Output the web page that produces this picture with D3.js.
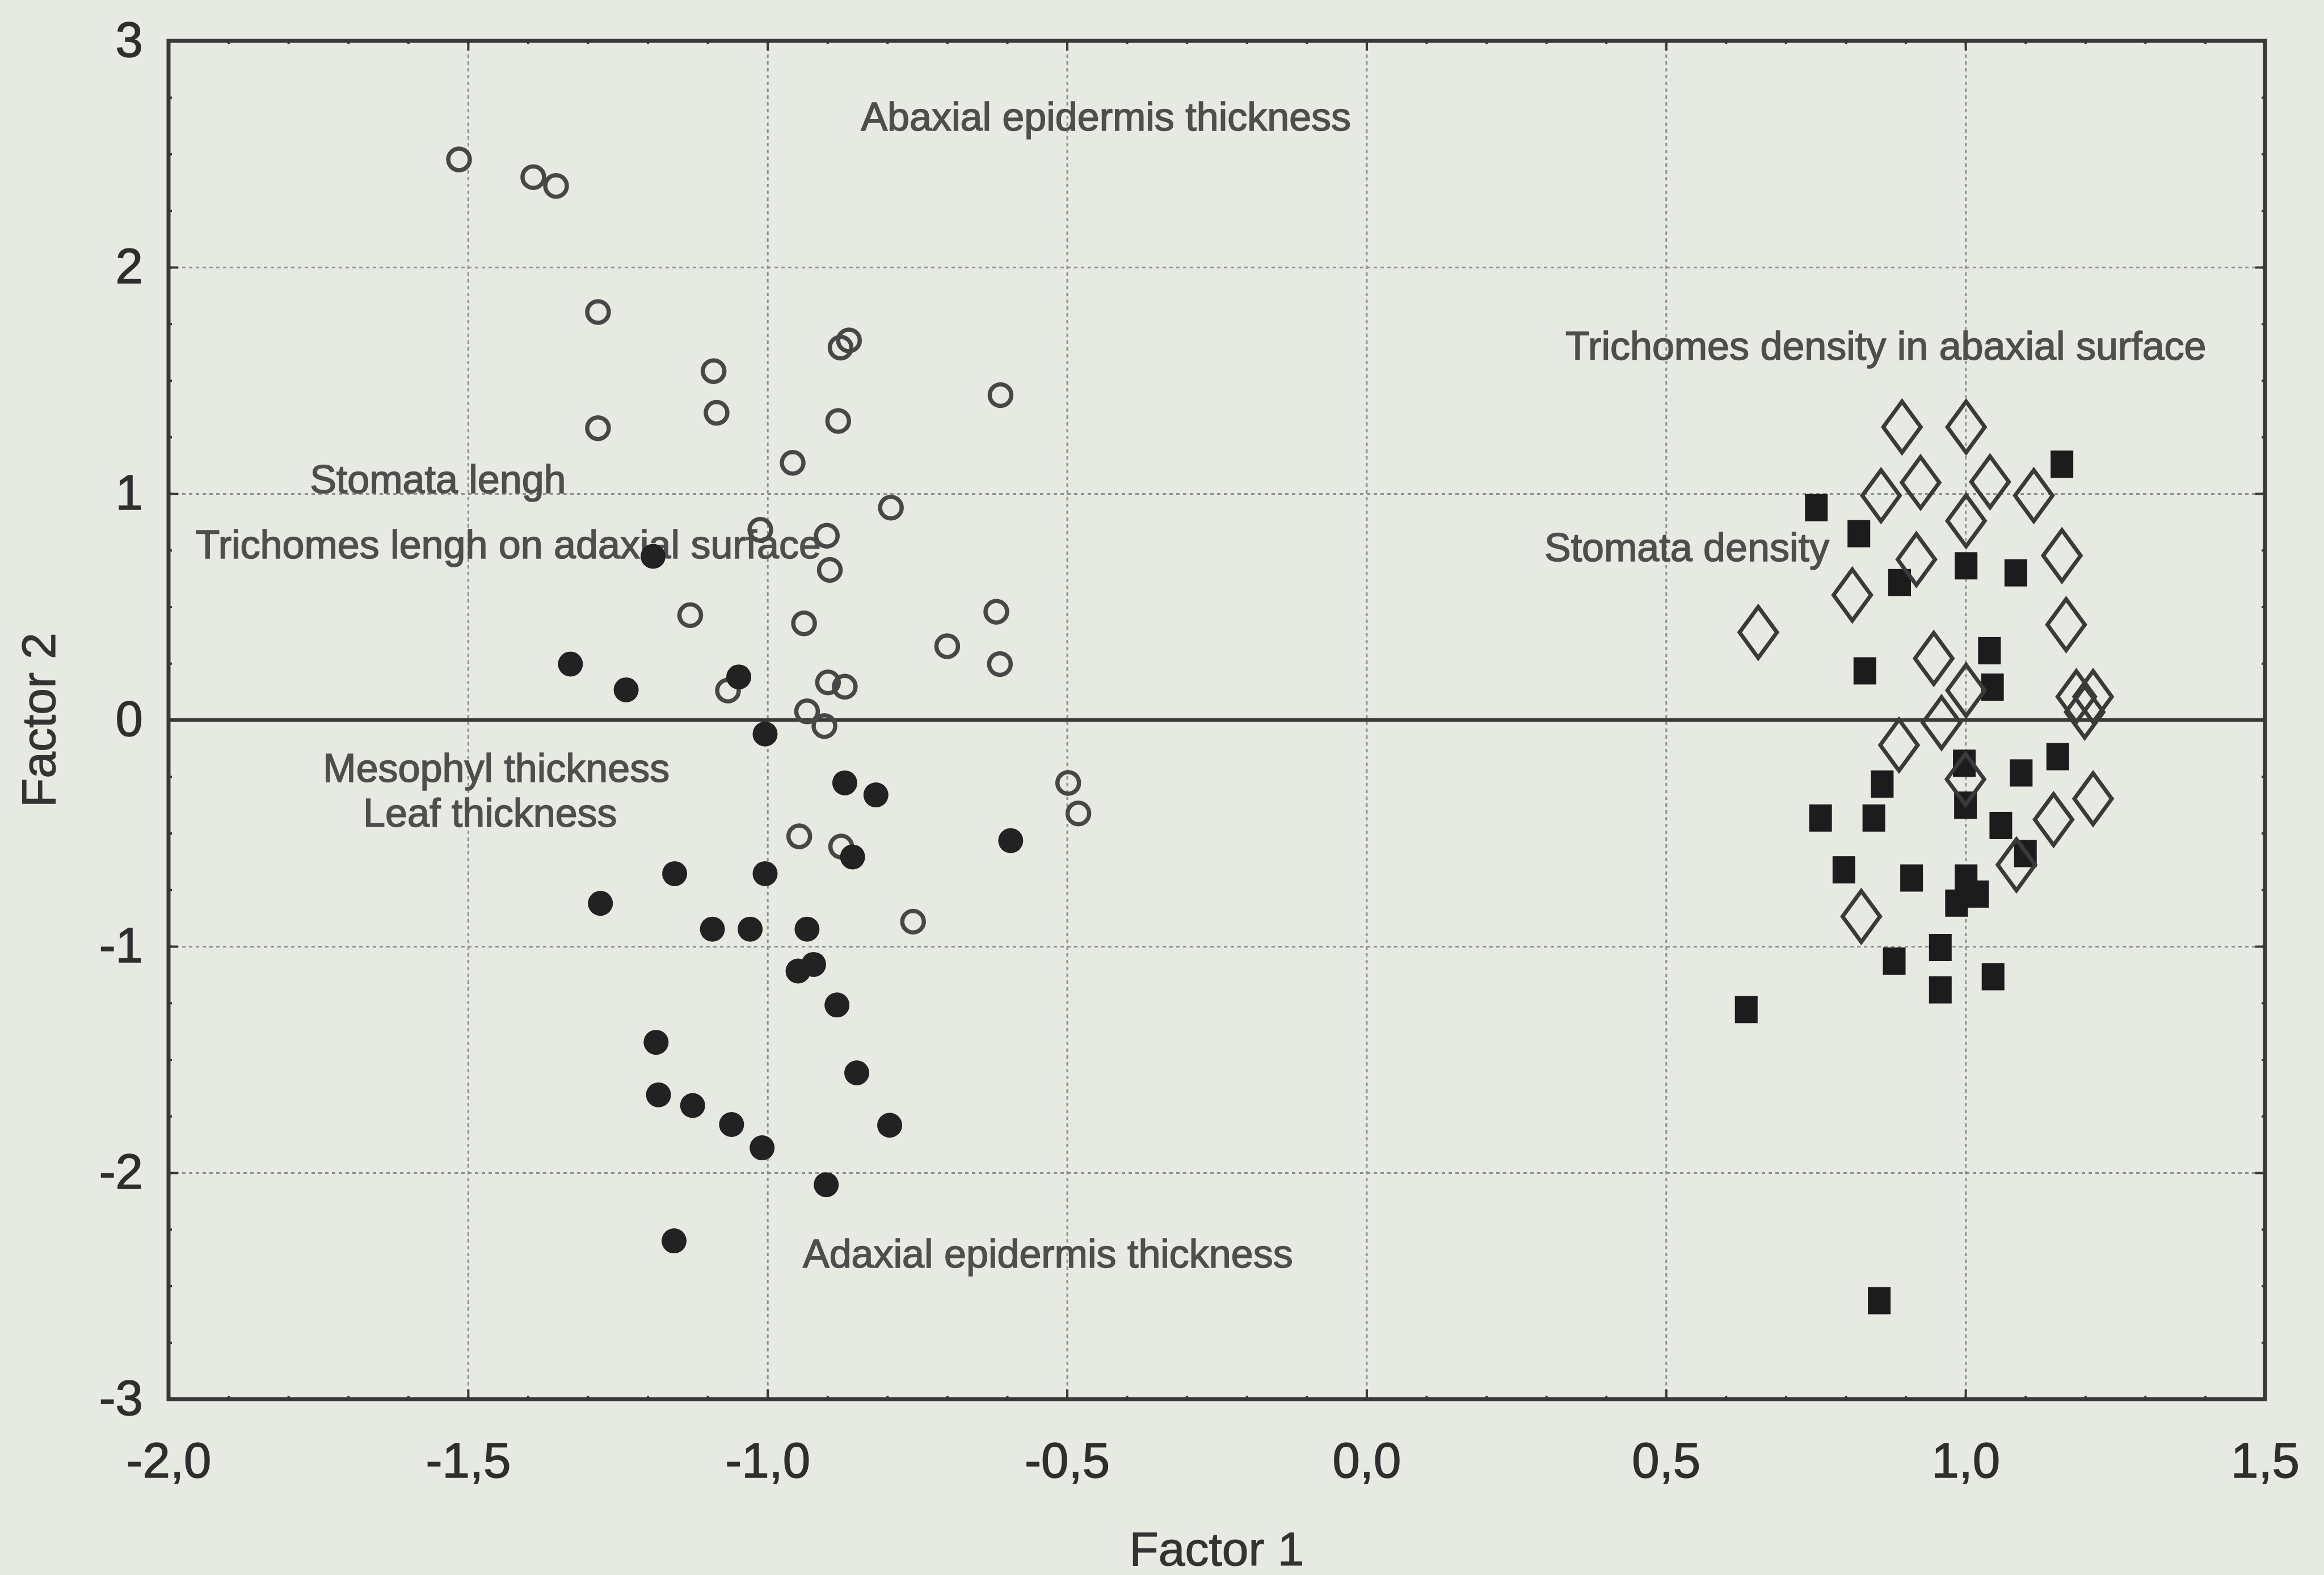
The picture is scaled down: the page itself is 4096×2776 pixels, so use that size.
<!DOCTYPE html>
<html><head><meta charset="utf-8">
<script src="https://cdn.jsdelivr.net/npm/d3@7"></script>
<style>
html,body{margin:0;padding:0;background:#e7eae2;}
svg{display:block;}
</style></head><body>
<svg id="chart" width="4096" height="2776"></svg>
<script>
// ---- data (Factor 1, Factor 2) ----
const openCircles = [
  [-1.515,2.476],[-1.391,2.398],[-1.353,2.359],[-1.283,1.802],[-0.878,1.645],[-0.864,1.677],
  [-1.090,1.541],[-1.085,1.357],[-1.283,1.289],[-0.882,1.321],[-0.611,1.435],[-0.958,1.136],
  [-0.794,0.938],[-1.012,0.840],[-0.901,0.814],[-0.896,0.663],[-1.129,0.463],[-0.939,0.427],
  [-0.618,0.478],[-0.700,0.326],[-0.612,0.247],[-1.066,0.130],[-0.899,0.166],[-0.871,0.147],
  [-0.934,0.038],[-0.905,-0.027],[-0.498,-0.278],[-0.481,-0.413],[-0.947,-0.514],[-0.877,-0.559],
  [-0.757,-0.891]
];
const filledCircles = [
  [-1.191,0.723],[-1.329,0.247],[-1.236,0.133],[-1.048,0.190],[-1.004,-0.062],[-0.871,-0.278],
  [-0.819,-0.331],[-0.594,-0.533],[-0.858,-0.605],[-1.155,-0.679],[-1.004,-0.679],[-1.279,-0.810],
  [-1.092,-0.924],[-1.029,-0.924],[-0.934,-0.924],[-0.923,-1.080],[-0.949,-1.109],[-0.884,-1.259],
  [-1.186,-1.424],[-0.851,-1.559],[-1.182,-1.656],[-1.125,-1.703],[-1.060,-1.787],[-0.796,-1.790],
  [-1.009,-1.890],[-0.902,-2.053],[-1.156,-2.301]
];
const openDiamonds = [
  [0.894,1.294],[1.001,1.294],[0.859,0.991],[0.925,1.049],[1.041,1.052],[1.114,0.991],
  [1.001,0.880],[0.918,0.709],[1.161,0.726],[0.811,0.552],[0.654,0.387],[1.168,0.421],
  [0.947,0.272],[1.001,0.131],[1.185,0.103],[1.213,0.103],[1.199,0.035],[0.960,-0.012],
  [0.889,-0.111],[1.000,-0.262],[1.213,-0.348],[1.147,-0.440],[1.085,-0.640],[0.826,-0.868]
];
const filledSquares = [
  [1.161,1.130],[0.751,0.938],[0.822,0.823],[1.001,0.681],[1.084,0.650],[0.890,0.607],
  [1.040,0.306],[0.832,0.217],[1.045,0.145],[0.998,-0.191],[1.154,-0.162],[1.093,-0.234],
  [0.861,-0.283],[0.758,-0.433],[0.847,-0.433],[1.000,-0.376],[1.059,-0.466],[1.100,-0.590],
  [0.797,-0.662],[0.910,-0.698],[1.001,-0.698],[1.020,-0.769],[0.985,-0.809],[0.958,-1.005],
  [0.881,-1.065],[0.958,-1.192],[1.046,-1.134],[0.634,-1.279],[0.856,-2.565]
];
const xTickValues = [-2,-1.5,-1,-0.5,0,0.5,1,1.5];
const xTickLabels = ["-2,0","-1,5","-1,0","-0,5","0,0","0,5","1,0","1,5"];
const yTickValues = [-3,-2,-1,0,1,2,3];
const yTickLabels = ["-3","-2","-1","0","1","2","3"];
const annotationTexts = [
  "Abaxial epidermis thickness","Trichomes density in abaxial surface","Stomata lengh",
  "Trichomes lengh on adaxial surface","Stomata density","Mesophyl thickness","Leaf thickness",
  "Adaxial epidermis thickness"
];
const annotationX = [-0.844,0.332,-1.764,-1.955,0.297,-1.742,-1.675,-0.941];
const annotationY = [2.603,1.592,1.003,0.715,0.703,-0.273,-0.471,-2.419];
const xTitle = "Factor 1", yTitle = "Factor 2";

// ---- layout ----
const W = 4096, H = 2776;
const m = {left:297, right:3992, top:72, bottom:2466};
const FONT = "'Liberation Sans', Arial, Helvetica, sans-serif";
const x = d3.scaleLinear().domain([-2,1.5]).range([m.left,m.right]);
const y = d3.scaleLinear().domain([-3,3]).range([m.bottom,m.top]);
const svg = d3.select("#chart");
svg.append("rect").attr("width",W).attr("height",H).attr("fill","#e7eae2");

// grid
const gridColor = "#8e908b";
svg.append("g").attr("transform",`translate(0,${m.bottom})`)
  .call(d3.axisBottom(x).tickValues(xTickValues.slice(1,-1)).tickSize(-(m.bottom-m.top)).tickFormat(""))
  .call(g=>g.select(".domain").remove())
  .call(g=>g.selectAll("line").attr("stroke",gridColor).attr("stroke-width",3).attr("stroke-dasharray","6,6"));
svg.append("g").attr("transform",`translate(${m.left},0)`)
  .call(d3.axisLeft(y).tickValues(yTickValues.filter(v=>v!==0 && v>-3 && v<3)).tickSize(-(m.right-m.left)).tickFormat(""))
  .call(g=>g.select(".domain").remove())
  .call(g=>g.selectAll("line").attr("stroke",gridColor).attr("stroke-width",3).attr("stroke-dasharray","6,6"));
// zero line
svg.append("line").attr("x1",x(-2)).attr("x2",x(1.5)).attr("y1",y(0)).attr("y2",y(0))
  .attr("stroke","#3a3a3a").attr("stroke-width",6);

// annotations
svg.append("g").selectAll("text").data(annotationTexts).join("text")
  .attr("x",(d,i)=>x(annotationX[i])).attr("y",(d,i)=>y(annotationY[i]))
  .attr("font-family",FONT).attr("font-size",70).attr("fill","#4e4e4e")
  .attr("stroke","#4e4e4e").attr("stroke-width",1.6)
  .text(d=>d);

// markers
const mk = svg.append("g");
mk.selectAll("circle.open").data(openCircles).join("circle").attr("class","open")
  .attr("cx",d=>x(d[0])).attr("cy",d=>y(d[1])).attr("r",19)
  .attr("fill","none").attr("stroke","#474747").attr("stroke-width",7.5);
mk.selectAll("circle.filled").data(filledCircles).join("circle").attr("class","filled")
  .attr("cx",d=>x(d[0])).attr("cy",d=>y(d[1])).attr("r",22)
  .attr("fill","#222");
mk.selectAll("rect.sq").data(filledSquares).join("rect").attr("class","sq")
  .attr("x",d=>x(d[0])-20).attr("y",d=>y(d[1])-24).attr("width",40).attr("height",48)
  .attr("fill","#1c1c1c");
mk.selectAll("path.dia").data(openDiamonds).join("path").attr("class","dia")
  .attr("d",d=>{const cx=x(d[0]),cy=y(d[1]),hw=33,hh=45;return `M${cx},${cy-hh}L${cx+hw},${cy}L${cx},${cy+hh}L${cx-hw},${cy}Z`;})
  .attr("fill","none").attr("stroke","#3a3a3a").attr("stroke-width",7);

// frame
svg.append("rect").attr("x",m.left).attr("y",m.top).attr("width",m.right-m.left).attr("height",m.bottom-m.top)
  .attr("fill","none").attr("stroke","#383838").attr("stroke-width",7);

// ticks
const tickColor = "#383838";
const minorX = d3.range(-20,16).map(v=>v/10);
const minorY = d3.range(-12,13).map(v=>v/4);
function styleTicks(g){ g.select(".domain").remove(); g.selectAll("line").attr("stroke",tickColor).attr("stroke-width",4); }
svg.append("g").attr("transform",`translate(0,${m.bottom})`).call(d3.axisBottom(x).tickValues(minorX).tickSize(-6).tickFormat("")).call(styleTicks);
svg.append("g").attr("transform",`translate(0,${m.top})`).call(d3.axisTop(x).tickValues(minorX).tickSize(-6).tickFormat("")).call(styleTicks);
svg.append("g").attr("transform",`translate(${m.left},0)`).call(d3.axisLeft(y).tickValues(minorY).tickSize(-6).tickFormat("")).call(styleTicks);
svg.append("g").attr("transform",`translate(${m.right},0)`).call(d3.axisRight(y).tickValues(minorY).tickSize(-6).tickFormat("")).call(styleTicks);
svg.append("g").attr("transform",`translate(0,${m.top})`).call(d3.axisTop(x).tickValues(xTickValues).tickSize(-17).tickFormat("")).call(styleTicks);
svg.append("g").attr("transform",`translate(${m.right},0)`).call(d3.axisRight(y).tickValues(yTickValues).tickSize(-17).tickFormat("")).call(styleTicks);

// labelled axes
svg.append("g").attr("transform",`translate(0,${m.bottom})`)
  .call(d3.axisBottom(x).tickValues(xTickValues).tickSize(-17).tickPadding(76)
        .tickFormat(d=>xTickLabels[xTickValues.indexOf(d)]))
  .call(styleTicks)
  .call(g=>g.selectAll("text").attr("font-family",FONT).attr("font-size",87).attr("fill","#2e2e2e")
        .attr("stroke","#2e2e2e").attr("stroke-width",1.5));
svg.append("g").attr("transform",`translate(${m.left},0)`)
  .call(d3.axisLeft(y).tickValues(yTickValues).tickSize(-17).tickPadding(45)
        .tickFormat(d=>yTickLabels[yTickValues.indexOf(d)]))
  .call(styleTicks)
  .call(g=>g.selectAll("text").attr("font-family",FONT).attr("font-size",87).attr("fill","#2e2e2e")
        .attr("stroke","#2e2e2e").attr("stroke-width",1.5));

// axis titles
svg.append("text").attr("x",(m.left+m.right)/2).attr("y",2759).attr("text-anchor","middle")
  .attr("font-family",FONT).attr("font-size",84).attr("fill","#333").attr("stroke","#333").attr("stroke-width",1.2).text(xTitle);
svg.append("text").attr("transform",`translate(97,${y(0)}) rotate(-90)`).attr("text-anchor","middle")
  .attr("font-family",FONT).attr("font-size",84).attr("fill","#333").attr("stroke","#333").attr("stroke-width",1.2).text(yTitle);
</script>
</body></html>
